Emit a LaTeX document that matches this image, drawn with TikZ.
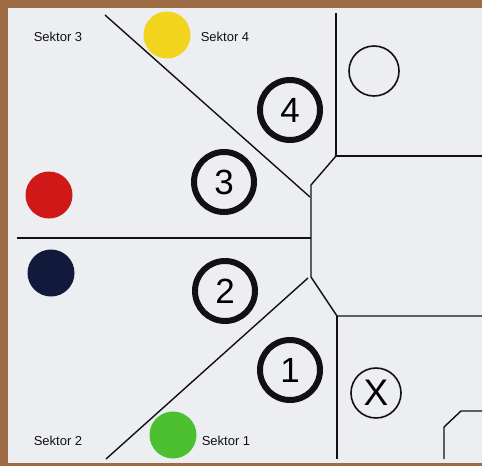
\documentclass[tikz,border=0pt]{standalone}
\usepackage{fontspec}
\setmainfont{Liberation Sans}
\definecolor{wood}{HTML}{9C6A43}
\definecolor{paper}{HTML}{ECEEF1}
\definecolor{dotyellow}{HTML}{F2D41C}
\definecolor{dotred}{HTML}{D01818}
\definecolor{dotnavy}{HTML}{121A3C}
\definecolor{dotgreen}{HTML}{4CC02E}
\definecolor{ink}{HTML}{111111}
\tikzset{
  wall/.style={draw=ink, line width=1.4pt},
  ring/.style={circle, draw=ink, line width=6pt, minimum size=60pt, inner sep=0pt, font=\fontsize{35}{35}\selectfont},
  thinring/.style={circle, draw=ink, line width=1.6pt, minimum size=50pt, inner sep=0pt, font=\fontsize{37}{37}\selectfont},
  dot/.style={circle, minimum size=47pt, inner sep=0pt},
  label/.style={font=\fontsize{13}{13}\selectfont, text=ink, inner sep=0pt}
}
\begin{document}
\begin{tikzpicture}[x=1pt,y=-1pt]
\useasboundingbox (0,0) rectangle (482,466);
\fill[wood] (0,0) rectangle (482,466);
\fill[paper] (8,8) rectangle (482,463);
% walls
\draw[wall] (105,15) -- (310,197);
\draw[wall] (336,13) -- (336,156) -- (482,156);
\draw[wall] (336,156) -- (311,185) -- (311,277) -- (337,316) -- (482,316);
\draw[wall] (337,316) -- (337,459);
\draw[wall] (17,238) -- (311,238);
\draw[wall] (308,278) -- (106,459);
\draw[wall] (444,459) -- (444,427) -- (461,411) -- (482,411);
% coloured dots
\node[dot, fill=dotyellow] (yellow) at (167,35) {};
\node[dot, fill=dotred] (red) at (49,195) {};
\node[dot, fill=dotnavy] (navy) at (51,273) {};
\node[dot, fill=dotgreen] (green) at (173,435) {};
% numbered rings
\node[ring] (r4) at (290,110) {4};
\node[ring] (r3) at (224,182) {3};
\node[ring] (r2) at (225,291) {2};
\node[ring] (r1) at (290,370) {1};
\node[thinring] (empty) at (374,71) {};
\node[thinring] (x) at (376,393) {X};
% labels
\node[label] (s3) at (58,37) {Sektor 3};
\node[label] (s4) at (225,37) {Sektor 4};
\node[label] (s2) at (58,441) {Sektor 2};
\node[label] (s1) at (226,441) {Sektor 1};
\end{tikzpicture}
\end{document}
